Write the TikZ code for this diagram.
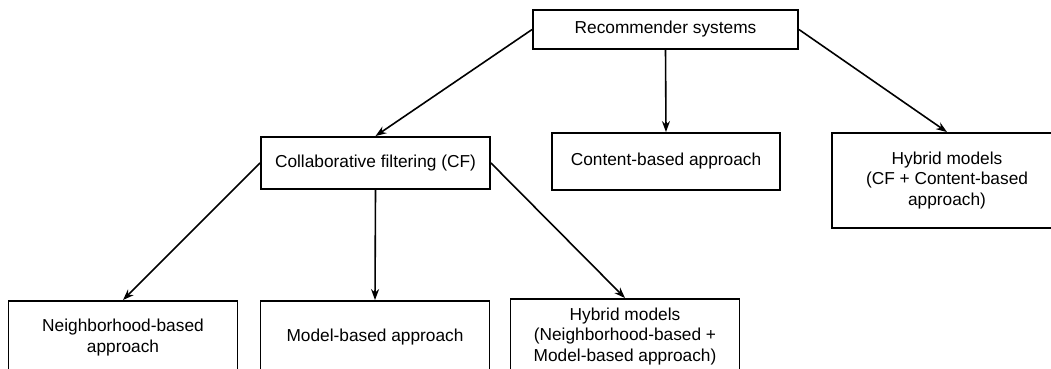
\documentclass[tikz,border=0pt]{standalone}
\usepackage{fontspec}
\setmainfont{Liberation Sans}
\usetikzlibrary{arrows.meta}
\begin{document}
\begin{tikzpicture}[x=1pt,y=-1pt,
  box/.style={draw=black, line width=1.9pt, rectangle, align=center, inner sep=0pt,
    font=\fontsize{17.3}{20.5}\selectfont, text=black},
  conn/.style={draw=black, line width=1.6pt, -{Stealth[length=11pt,width=8pt]}}]
\useasboundingbox (0,0) rectangle (1051,368);
\fill[white] (0,0) rectangle (1051,368);
\node[box, minimum width=265pt, minimum height=39pt] (root) at (665.5,29.5) {Recommender systems};
\node[box, minimum width=229pt, minimum height=52pt] (cf) at (375.5,163) {Collaborative filtering (CF)};
\node[box, minimum width=228pt, minimum height=57pt] (cb) at (666,161.5) {Content-based approach};
\node[box, minimum width=230pt, minimum height=95pt] (hy) at (947,180.5) {Hybrid models\\(CF + Content-based\\approach)};
\node[box, minimum width=229pt, minimum height=73pt] (nb) at (123,337.5) {Neighborhood-based\\approach};
\node[box, minimum width=229pt, minimum height=73pt] (mb) at (375,337.5) {Model-based approach};
\node[box, minimum width=229pt, minimum height=75pt] (hy2) at (625,336.5) {Hybrid models\\(Neighborhood-based +\\Model-based approach)};
\draw[conn] (root.west) -- (cf.north);
\draw[conn] (root.south) -- (cb.north);
\draw[conn] (root.east) -- (hy.north);
\draw[conn] (cf.west) -- (nb.north);
\draw[conn] (cf.south) -- (mb.north);
\draw[conn] (cf.east) -- (hy2.north);
\end{tikzpicture}
\end{document}
